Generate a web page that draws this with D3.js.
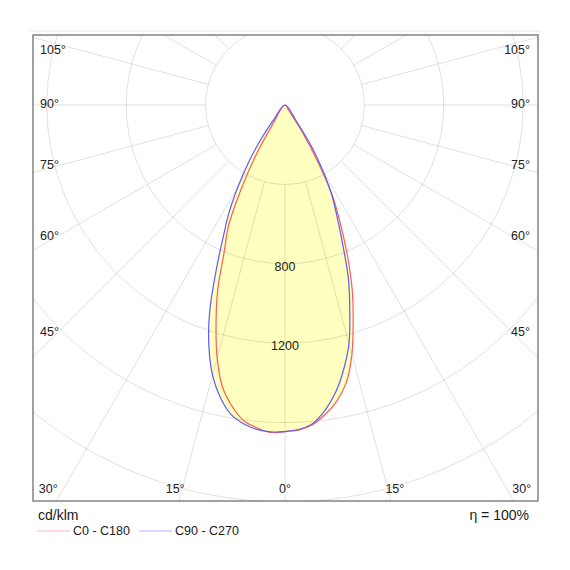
<!DOCTYPE html>
<html>
<head>
<meta charset="utf-8">
<script src="https://cdn.jsdelivr.net/npm/d3@7"></script>
<style>
  body { margin: 0; background: #fff; }
  svg { display: block; }
  text { font-family: "Liberation Sans", Arial, sans-serif; }
</style>
</head>
<body>
<svg id="chart" width="570" height="570"></svg>
<script>
// ---- data (cd/klm) ----
const gammas = [0, 2.5, 5, 7.5, 10, 12.5, 15, 17.5, 20, 22.5, 25, 27.5, 30, 32.5, 35, 37.5, 40];
const c0   = [1645, 1638, 1615, 1570, 1512, 1430, 1302, 1142, 990, 822, 660, 520, 330, 160, 30, 0, 0];
const c180 = [1645, 1652, 1632, 1603, 1540, 1455, 1320, 1155, 990, 800, 675, 480, 302, 120, 0, 0, 0];
const c90  = [1645, 1635, 1610, 1550, 1470, 1365, 1245, 1085, 935, 760, 620, 510, 380, 255, 100, 0, 0];
const c270 = [1645, 1648, 1640, 1618, 1580, 1508, 1410, 1275, 1110, 910, 740, 610, 470, 340, 215, 95, 0];
const gridIntensities = [400, 800, 1200, 1600, 2000, 2400];
const intensityLabels = [800, 1200];
const radialAngles = d3.range(0, 181, 15);
const sideAngleLabels = [105, 90, 75, 60, 45];
const bottomAngleLabels = [30, 15, 0];
const seriesNames = ["C0 - C180", "C90 - C270"];
const unitLabel = "cd/klm";
const efficiencyLabel = "η = 100%";

// ---- layout ----
const svg = d3.select("#chart");
const frame = { x0: 33, y0: 35, x1: 538, y1: 501 };
const cx = 285, cy = 105;
const r = d3.scaleLinear().domain([0, 1200]).range([0, 238.2]);
const rad = d => d * Math.PI / 180;
const red = "#ff5c5c", blue = "#5c5cff";

svg.append("line").attr("x1", 30).attr("x2", 541).attr("y1", 31).attr("y2", 31)
  .attr("stroke", "#e8e8e8").attr("stroke-width", 1);

svg.append("defs").append("clipPath").attr("id", "clip")
  .append("rect").attr("x", frame.x0).attr("y", frame.y0)
  .attr("width", frame.x1 - frame.x0).attr("height", frame.y1 - frame.y0);

const plot = svg.append("g").attr("clip-path", "url(#clip)");
const g = plot.append("g").attr("transform", `translate(${cx},${cy})`);

function curvePoints(right, left) {
  const pts = [{ a: 0, v: 0 }];
  for (let i = gammas.length - 1; i >= 0; i--) {
    if (left[i] > 0) pts.push({ a: Math.PI + rad(gammas[i]), v: left[i] });
  }
  for (let i = 1; i < gammas.length; i++) {
    if (right[i] > 0) pts.push({ a: Math.PI - rad(gammas[i]), v: right[i] });
  }
  return pts;
}
const radial = d3.lineRadial().angle(d => d.a).radius(d => r(d.v))
  .curve(d3.curveCatmullRomClosed.alpha(0.5));

const redPts = curvePoints(c0, c180);
const bluePts = curvePoints(c90, c270);

// fill (union of both)
g.append("path").attr("d", radial(redPts)).attr("fill", "#ffffc0");
g.append("path").attr("d", radial(bluePts)).attr("fill", "#ffffc0");

// grid
const grid = g.append("g").attr("stroke", "#000").attr("stroke-opacity", 0.12)
  .attr("fill", "none").attr("stroke-width", 1);
gridIntensities.forEach(v => grid.append("circle").attr("r", r(v)));
radialAngles.forEach(a => {
  [1, -1].forEach(s => {
    if (s === -1 && (a === 0 || a === 180)) return;
    const t = rad(a);
    grid.append("line")
      .attr("x1", s * r(400) * Math.sin(t)).attr("y1", r(400) * Math.cos(t))
      .attr("x2", s * r(3000) * Math.sin(t)).attr("y2", r(3000) * Math.cos(t));
  });
});

// curves
g.append("path").attr("d", radial(redPts)).attr("fill", "none")
  .attr("stroke", red).attr("stroke-width", 1.2);
g.append("path").attr("d", radial(bluePts)).attr("fill", "none")
  .attr("stroke", blue).attr("stroke-width", 1.2);

// intensity labels
intensityLabels.forEach(v => {
  g.append("text").attr("x", 0).attr("y", r(v) + 4)
    .attr("text-anchor", "middle").attr("dominant-baseline", "middle")
    .attr("font-size", 12.5).attr("fill", "#222").text(v);
});

// angle labels
const lab = svg.append("g").attr("font-size", 12.5).attr("fill", "#222");
sideAngleLabels.forEach(a => {
  const dy = 228 * Math.tan(rad(90 - a));
  const y = Math.max(frame.y0 + 16, cy + dy);
  lab.append("text").attr("x", frame.x0 + 7).attr("y", y)
    .attr("dominant-baseline", "middle").text(a + "°");
  lab.append("text").attr("x", frame.x1 - 8).attr("y", y)
    .attr("text-anchor", "end").attr("dominant-baseline", "middle").text(a + "°");
});
bottomAngleLabels.forEach(a => {
  const dx = 410 * Math.tan(rad(a));
  const xs = a === 0 ? [0] : [-1, 1];
  xs.forEach(s => {
    lab.append("text").attr("x", cx + s * dx).attr("y", frame.y1 - 11)
      .attr("text-anchor", "middle").attr("dominant-baseline", "middle").text(a + "°");
  });
});

// frame
svg.append("rect").attr("x", frame.x0).attr("y", frame.y0)
  .attr("width", frame.x1 - frame.x0).attr("height", frame.y1 - frame.y0)
  .attr("fill", "none").attr("stroke", "#8a8a8a").attr("stroke-width", 1.6);

// footer
svg.append("text").attr("x", 38).attr("y", 520).attr("font-size", 14)
  .attr("fill", "#1a1a1a").text(unitLabel);
svg.append("text").attr("x", 529).attr("y", 520).attr("font-size", 14)
  .attr("text-anchor", "end").attr("fill", "#1a1a1a").text(efficiencyLabel);

const legend = svg.append("g");
[[red, 37], [blue, 139]].forEach(([col, x], i) => {
  legend.append("line").attr("x1", x).attr("x2", x + 33).attr("y1", 531).attr("y2", 531)
    .attr("stroke", col).attr("stroke-opacity", 0.45).attr("stroke-width", 1.2);
  legend.append("text").attr("x", x + 36).attr("y", 535).attr("font-size", 12.5)
    .attr("fill", "#1a1a1a").text(seriesNames[i]);
});
</script>
</body>
</html>
